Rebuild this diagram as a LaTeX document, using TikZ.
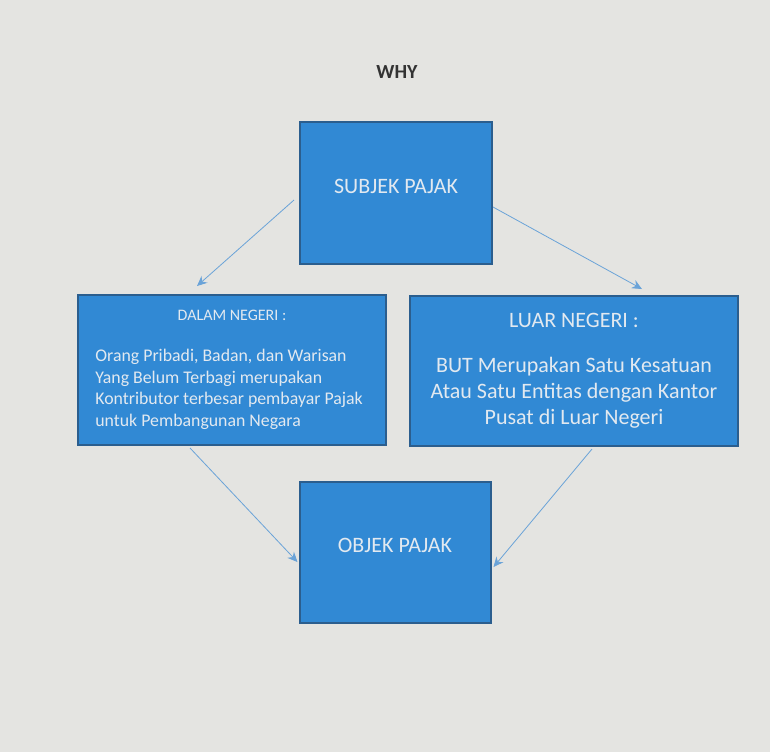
\documentclass[tikz,border=0pt]{standalone}
\usepackage{fontspec}
\setmainfont{Carlito}
\usetikzlibrary{calc,arrows.meta}
\definecolor{paper}{HTML}{E4E4E1}
\definecolor{boxblue}{HTML}{3189D4}
\definecolor{boxedge}{HTML}{2B5E8E}
\definecolor{linkblue}{HTML}{6AA3D8}
\definecolor{boxtext}{HTML}{E2E9F0}
\tikzset{
  pajak/.style={draw=boxedge,fill=boxblue,line width=1pt,text=boxtext,inner sep=0pt},
  link/.style={->,>={Stealth[length=5pt,width=4.5pt]},draw=linkblue,thin}
}
\begin{document}
\begin{tikzpicture}[x=0.5pt,y=-0.5pt]
      \fill[paper](0,0)rectangle(770,752);
      \node[font=\bfseries\fontsize{10}{12}\selectfont,text=black!80](why)at(397,72){WHY};
      \node[pajak,minimum width=96pt,minimum height=71pt](subjek)at(396,193){};
      \node[text=boxtext,font=\fontsize{11}{13}\selectfont](subjektxt)at(396,186){SUBJEK PAJAK};
      \node[pajak,minimum width=154pt,minimum height=75pt](dalam)at(232,370){};
      \node[text=boxtext,font=\fontsize{8}{10}\selectfont](dalamhead)at(232,315){DALAM NEGERI :};
      \node[text=boxtext,font=\fontsize{8.9}{10.8}\selectfont,align=left,anchor=north west,inner sep=0pt](dalamtxt)at(95,349){Orang Pribadi, Badan, dan Warisan\\Yang Belum Terbagi merupakan\\Kontributor terbesar pembayar Pajak\\untuk Pembangunan Negara};
      \node[pajak,minimum width=164pt,minimum height=75pt](luar)at(574,371){};
      \node[text=boxtext,font=\fontsize{11}{13}\selectfont](luarhead)at(574,320){LUAR NEGERI :};
      \node[text=boxtext,font=\fontsize{11}{13}\selectfont,align=center,anchor=north,inner sep=0pt](luartxt)at(574,357){BUT Merupakan Satu Kesatuan\\Atau Satu Entitas dengan Kantor\\Pusat di Luar Negeri};
      \node[pajak,minimum width=95.5pt,minimum height=70.5pt](objek)at(395,552){};
      \node[text=boxtext,font=\fontsize{11}{13}\selectfont](objektxt)at(395,545){OBJEK PAJAK};
      \draw[link]($(subjek.west)+(-5,7)$)--($(dalam.north)+(-35,-8)$);
      \draw[link]($(subjek.east)+(0,14)$)--($(luar.north)+(68,-6)$);
      \draw[link]($(dalam.south)+(-42,2)$)--($(objek.west)+(-1,10)$);
      \draw[link]($(luar.south)+(18,2)$)--($(objek.east)+(2,15)$);
    \end{tikzpicture}
\end{document}
